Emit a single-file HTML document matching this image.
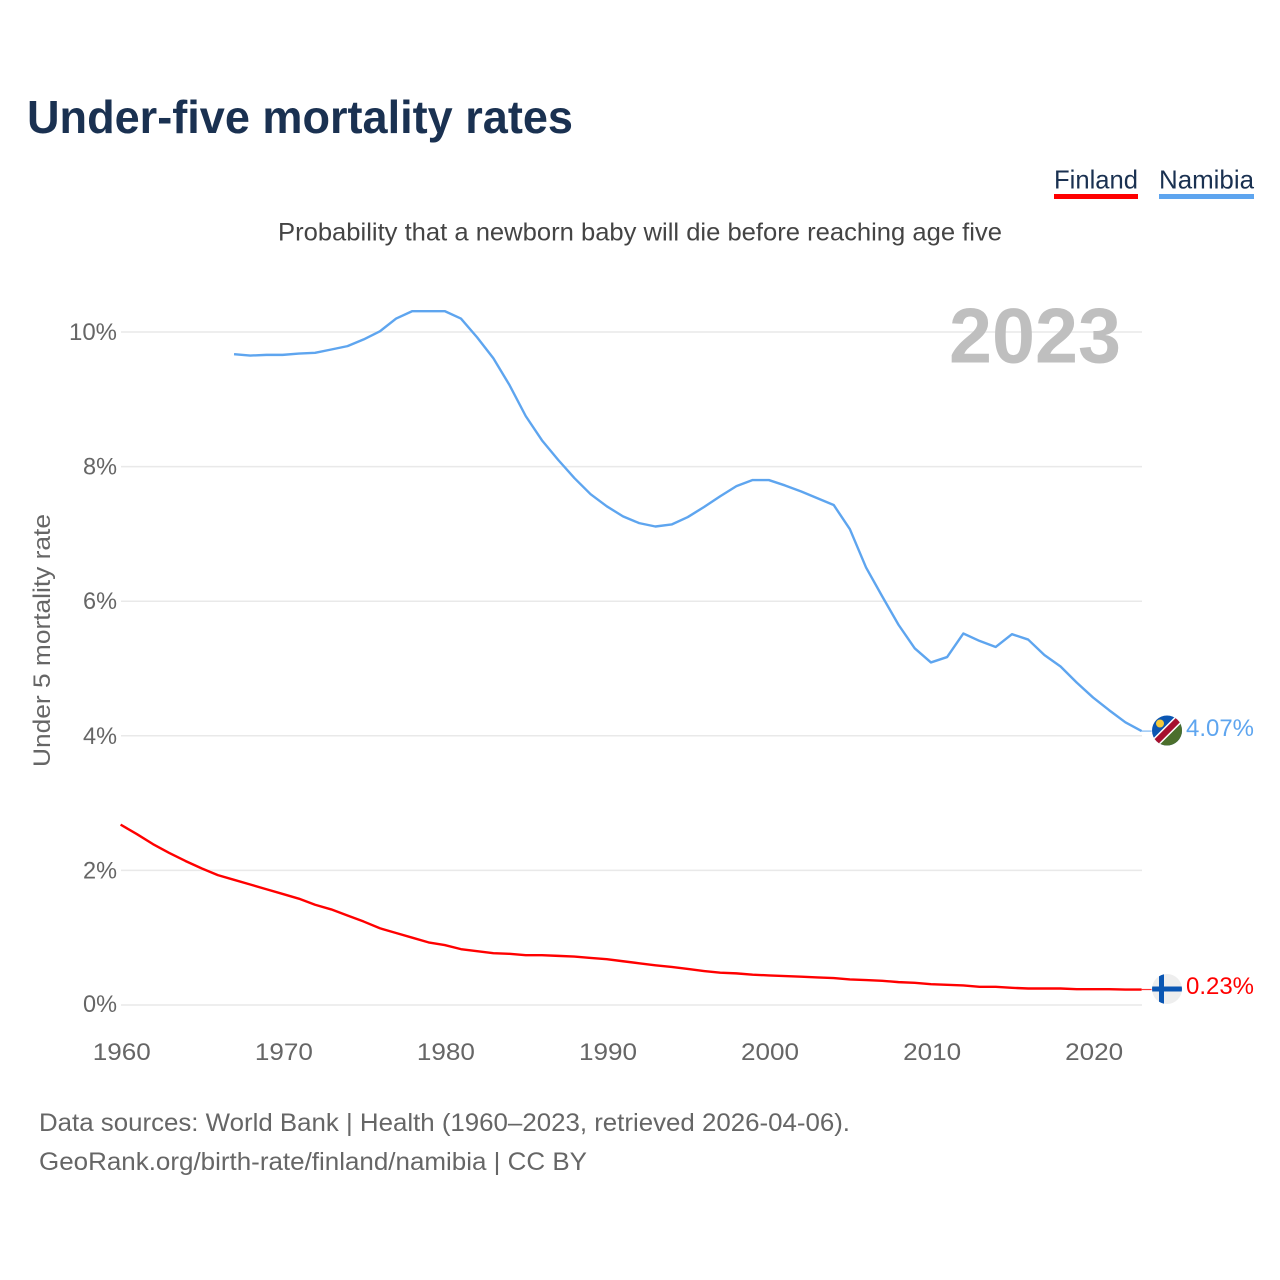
<!DOCTYPE html>
<html lang="en">
<head>
<meta charset="utf-8">
<title>Under-five mortality rates</title>
<style>
html,body{margin:0;padding:0;background:#fff;width:1280px;height:1280px;overflow:hidden}
svg{display:block;font-family:"Liberation Sans",Arial,sans-serif}
</style>
</head>
<body>
<svg id="chart" xmlns="http://www.w3.org/2000/svg" width="1280" height="1280" viewBox="0 0 1280 1280">
  <defs>
    <clipPath id="flag-clip-na"><circle cx="1167" cy="730.5" r="15"/></clipPath>
    <clipPath id="flag-clip-fi"><circle cx="1167" cy="989" r="15"/></clipPath>
  </defs>
  <rect width="1280" height="1280" fill="#fff"/>
  <text x="27" y="133" font-size="46" font-weight="700" fill="#1a3151" textLength="546" lengthAdjust="spacingAndGlyphs">Under-five mortality rates</text>

  <g>
    <text x="1054" y="188.5" font-size="26" fill="#1a3151" textLength="84" lengthAdjust="spacingAndGlyphs">Finland</text>
    <rect x="1054" y="194" width="84" height="5" fill="#ff0000"/>
  </g>
  <g>
    <text x="1159" y="188.5" font-size="26" fill="#1a3151" textLength="95" lengthAdjust="spacingAndGlyphs">Namibia</text>
    <rect x="1159" y="194" width="95" height="5" fill="#5ea5ef"/>
  </g>

  <text x="278" y="240.5" font-size="25" fill="#444" textLength="724" lengthAdjust="spacingAndGlyphs">Probability that a newborn baby will die before reaching age five</text>

  <g id="grid"></g>
  <g id="y-ticks"></g>
  <g id="x-ticks"></g>

  <text transform="translate(50,767) rotate(-90)" x="0" y="0" font-size="24" fill="#666" textLength="253" lengthAdjust="spacingAndGlyphs">Under 5 mortality rate</text>

  <text x="949" y="362.5" font-size="78" font-weight="700" fill="#bfbfbf" textLength="172" lengthAdjust="spacingAndGlyphs">2023</text>

  <g id="series"></g>

  <g clip-path="url(#flag-clip-na)">
    <rect x="1150" y="713" width="34" height="35" fill="#0a56b3"/>
    <polygon points="1184,714 1184,748 1150,748" fill="#4c6f2c"/>
    <line x1="1150" y1="748" x2="1184" y2="714" stroke="#fff" stroke-width="9"/>
    <line x1="1150" y1="748" x2="1184" y2="714" stroke="#a6102f" stroke-width="6"/>
    <circle cx="1160" cy="723.5" r="4" fill="#f5c93a"/>
  </g>
  <g clip-path="url(#flag-clip-fi)">
    <rect x="1150" y="972" width="34" height="34" fill="#eeeeee"/>
    <rect x="1152" y="986.5" width="30" height="5" fill="#0a56b3"/>
    <rect x="1159" y="974" width="5" height="30" fill="#0a56b3"/>
  </g>

  <text id="label-namibia" x="1186" y="736" font-size="24" fill="#5ea5ef" textLength="68" lengthAdjust="spacingAndGlyphs"></text>
  <text id="label-finland" x="1186" y="994" font-size="24" fill="#ff0000" textLength="68" lengthAdjust="spacingAndGlyphs"></text>

  <text x="39" y="1131" font-size="25" fill="#666" textLength="811" lengthAdjust="spacingAndGlyphs">Data sources: World Bank | Health (1960–2023, retrieved 2026-04-06).</text>
  <text x="39" y="1170" font-size="25" fill="#666" textLength="548" lengthAdjust="spacingAndGlyphs">GeoRank.org/birth-rate/finland/namibia | CC BY</text>
</svg>
<script>
const yTickValues = [0, 2, 4, 6, 8, 10];
const xTickValues = [1960, 1970, 1980, 1990, 2000, 2010, 2020];
const finlandStartYear = 1960;
const finlandValues = [2.68,2.54,2.39,2.26,2.14,2.03,1.93,1.86,1.79,1.72,1.65,1.58,1.49,1.42,1.33,1.24,1.14,1.07,1.00,0.93,0.89,0.83,0.80,0.77,0.76,0.74,0.74,0.73,0.72,0.70,0.68,0.65,0.62,0.59,0.565,0.535,0.505,0.48,0.47,0.45,0.44,0.43,0.42,0.41,0.40,0.38,0.37,0.36,0.34,0.33,0.31,0.30,0.29,0.27,0.27,0.255,0.245,0.245,0.245,0.235,0.235,0.235,0.23,0.23];
const namibiaStartYear = 1967;
const namibiaValues = [9.67,9.65,9.66,9.66,9.68,9.69,9.74,9.79,9.89,10.01,10.2,10.31,10.31,10.31,10.2,9.92,9.61,9.21,8.75,8.39,8.1,7.83,7.59,7.41,7.26,7.16,7.11,7.14,7.25,7.4,7.56,7.71,7.8,7.8,7.72,7.63,7.53,7.43,7.07,6.5,6.07,5.65,5.3,5.09,5.17,5.52,5.41,5.32,5.51,5.43,5.2,5.03,4.79,4.57,4.38,4.2,4.07];

const NS = 'http://www.w3.org/2000/svg';
function xScale(year) { return 120.6 + (year - 1960) * (1141.6 - 120.6) / 63; }
function yScale(pct) { return 1005 - pct * 67.3; }
function svgEl(tag) { return document.createElementNS(NS, tag); }

const grid = document.getElementById('grid');
const yTicks = document.getElementById('y-ticks');
const xTicks = document.getElementById('x-ticks');
const series = document.getElementById('series');

yTickValues.forEach(function (v) {
  const line = svgEl('line');
  
  
  line.setAttribute('x1', 121);
  line.setAttribute('x2', 1142);
  line.setAttribute('y1', yScale(v));
  line.setAttribute('y2', yScale(v));
  line.setAttribute('stroke', '#e9e9e9');
  line.setAttribute('stroke-width', '1.5');
  grid.appendChild(line);

  const t = svgEl('text');
  
  
  t.setAttribute('x', 117);
  t.setAttribute('y', yScale(v) + (v === 0 ? 7 : 8));
  t.setAttribute('text-anchor', 'end');
  t.setAttribute('font-size', '24');
  t.setAttribute('fill', '#666');
  t.setAttribute('textLength', v >= 10 ? 48 : 34);
  t.setAttribute('lengthAdjust', 'spacingAndGlyphs');
  t.textContent = v + '%';
  yTicks.appendChild(t);
});

xTickValues.forEach(function (v) {
  const t = svgEl('text');
  
  
  t.setAttribute('x', xScale(v) + 1.2);
  t.setAttribute('y', 1060);
  t.setAttribute('text-anchor', 'middle');
  t.setAttribute('font-size', '24');
  t.setAttribute('fill', '#666');
  t.setAttribute('textLength', 58);
  t.setAttribute('lengthAdjust', 'spacingAndGlyphs');
  t.textContent = v;
  xTicks.appendChild(t);
});

function drawSeries(values, startYear, color) {
  const pts = values.map(function (v, i) {
    return xScale(startYear + i).toFixed(2) + ',' + yScale(v).toFixed(2);
  });
  const path = svgEl('polyline');
  
  
  path.setAttribute('points', pts.join(' '));
  path.setAttribute('fill', 'none');
  path.setAttribute('stroke', color);
  path.setAttribute('stroke-width', '2.4');
  path.setAttribute('stroke-linejoin', 'round');
  series.appendChild(path);

  const last = values[values.length - 1];
  const lead = svgEl('line');
  
  
  lead.setAttribute('x1', xScale(2023));
  lead.setAttribute('x2', xScale(2023) + 10);
  lead.setAttribute('y1', yScale(last));
  lead.setAttribute('y2', yScale(last));
  lead.setAttribute('stroke', color);
  lead.setAttribute('stroke-width', '1.2');
  lead.setAttribute('stroke-opacity', '0.8');
  series.appendChild(lead);
}

drawSeries(namibiaValues, namibiaStartYear, '#5ea5ef');
drawSeries(finlandValues, finlandStartYear, '#ff0000');

document.getElementById('label-namibia').textContent = namibiaValues[namibiaValues.length - 1].toFixed(2) + '%';
document.getElementById('label-finland').textContent = finlandValues[finlandValues.length - 1].toFixed(2) + '%';
</script>
</body>
</html>
